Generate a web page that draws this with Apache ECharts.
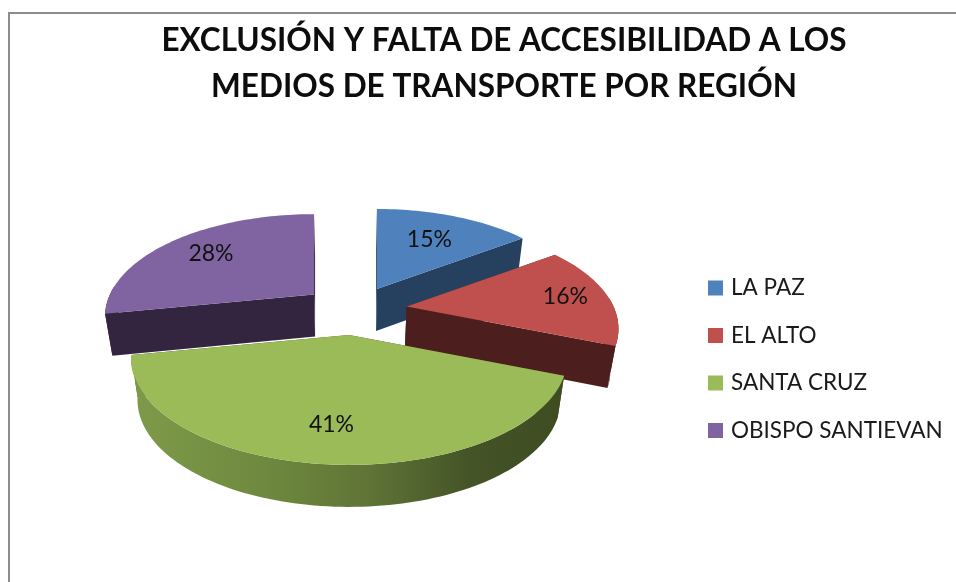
<!DOCTYPE html>
<html><head><meta charset="utf-8">
<style>html,body{margin:0;padding:0;background:#fff}#c{width:956px;height:582px}</style>
<script src="https://cdn.jsdelivr.net/npm/echarts@6/dist/echarts.min.js"></script>
</head><body><div id="c"></div>
<script>
const categories = ['LA PAZ', 'EL ALTO', 'SANTA CRUZ', 'OBISPO SANTIEVAN'];
const values = [15, 16, 41, 28];
const colors = ['#4f81bd', '#c0504d', '#9bbb59', '#8064a2'];
const darkColors = ['#26405f', '#4c1f1e', '#3f4c22', '#33243f'];
const labelFractions = [0.64, 0.79, 0.74, 0.72];
const titleText = 'EXCLUSIÓN Y FALTA DE ACCESIBILIDAD A LOS\nMEDIOS DE TRANSPORTE POR REGIÓN';

// 3D view of the pie: each exploded slice keeps a perspective disc around its own apex,
// slightly smaller the further back the apex sits
const view = {cx: 348, cy: 335, rx: 213, ry: 102, persp: 0.215, depthScale: 0.1, depth: 42, shrink: 0.97, centerU: 0.03, centerV: -0.264, explode: 0.265};
const total = values.reduce((a, b) => a + b, 0);
const rad = d => d * Math.PI / 180;
function project(U, V) {
  const s = 1 / (1 - view.persp * V);
  return [view.rx * U * s, view.ry * V * s];
}
function lower(p) {
  return [view.cx + (p[0] - view.cx) * view.shrink, p[1] + view.depth];
}
function slicePoint(a0, a1, rho, ang) {
  const mid = rad((a0 + a1) / 2);
  const aU = view.centerU + view.explode * Math.sin(mid);
  const aV = view.centerV - view.explode * Math.cos(mid);
  const apex = project(aU, aV);
  const scale = 1 / (1 - view.depthScale * aV);
  const local = project(rho * Math.sin(rad(ang)), -rho * Math.cos(rad(ang)));
  return [view.cx + apex[0] + scale * local[0], view.cy + apex[1] + scale * local[1]];
}
function arc(a0, a1, from, to) {
  const pts = [];
  const n = Math.max(1, Math.ceil((to - from) / 1.5));
  for (let i = 0; i <= n; i++) pts.push(slicePoint(a0, a1, 1, from + (to - from) * i / n));
  return pts;
}
function wallFill(idx) {
  if (idx !== 2) return darkColors[idx];
  return new echarts.graphic.LinearGradient(0, 0, 1, 0, [
    {offset: 0, color: '#7e9a49'}, {offset: 0.3, color: '#6f8a3f'},
    {offset: 0.55, color: '#5f7436'}, {offset: 0.78, color: '#445427'},
    {offset: 1, color: '#3f4c22'}
  ]);
}
function renderSlice(idx) {
  const a0 = values.slice(0, idx).reduce((a, b) => a + b, 0) / total * 360;
  const a1 = a0 + values[idx] / total * 360;
  const apex = slicePoint(a0, a1, 0, 0);
  const top = [apex].concat(arc(a0, a1, a0, a1));
  const children = [];
  [a0, a1].forEach(a => {
    const e = slicePoint(a0, a1, 1, a);
    children.push({type: 'polygon', shape: {points: [apex, e, lower(e), lower(apex)]},
      style: {fill: darkColors[idx]}});
  });
  const w0 = Math.max(a0, 85), w1 = Math.min(a1, 275);
  if (w1 > w0) {
    const up = arc(a0, a1, w0, w1);
    children.push({type: 'polygon', shape: {points: up.concat(up.map(lower).reverse())},
      style: {fill: wallFill(idx)}});
  }
  children.push({type: 'polygon', shape: {points: top}, style: {fill: colors[idx]}});
  const f = labelFractions[idx];
  const lp = slicePoint(a0, a1, f, (a0 + a1) / 2);
  children.push({type: 'text', x: lp[0], y: lp[1], z2: 10,
    style: {text: Math.round(values[idx] / total * 100) + '%', fill: '#111', align: 'center', verticalAlign: 'middle',
      font: '23px Lato, "Open Sans", sans-serif'}});
  return {type: 'group', children};
}

const chart = echarts.init(document.getElementById('c'), null, {renderer: 'canvas'});
chart.setOption({
  animation: false,
  backgroundColor: '#fff',
  title: {
    text: titleText, left: 499, top: 13, textAlign: 'center',
    textStyle: {fontFamily: 'Lato, sans-serif', fontWeight: 'bold', fontSize: 31.5, lineHeight: 46, color: '#0d0d0d'}
  },
  legend: {
    orient: 'vertical', left: 703, top: 271, itemWidth: 15, itemHeight: 15, itemGap: 23.5, icon: 'rect',
    data: categories, selectedMode: false,
    textStyle: {fontFamily: 'Lato, sans-serif', fontSize: 22.5, color: '#1a1a1a', padding: [0, 0, 0, 3], lineHeight: 24}
  },
  graphic: [{type: 'polyline', silent: true, shape: {points: [[9, 582], [9, 13], [956, 13]]},
    style: {stroke: '#8c8c8c', lineWidth: 2, fill: 'none'}}],
  series: categories.map((name, idx) => ({
    type: 'custom', name, coordinateSystem: 'none', silent: true,
    itemStyle: {color: colors[idx]},
    data: [[values[idx]]],
    renderItem: () => renderSlice(idx)
  }))
});
</script></body></html>
